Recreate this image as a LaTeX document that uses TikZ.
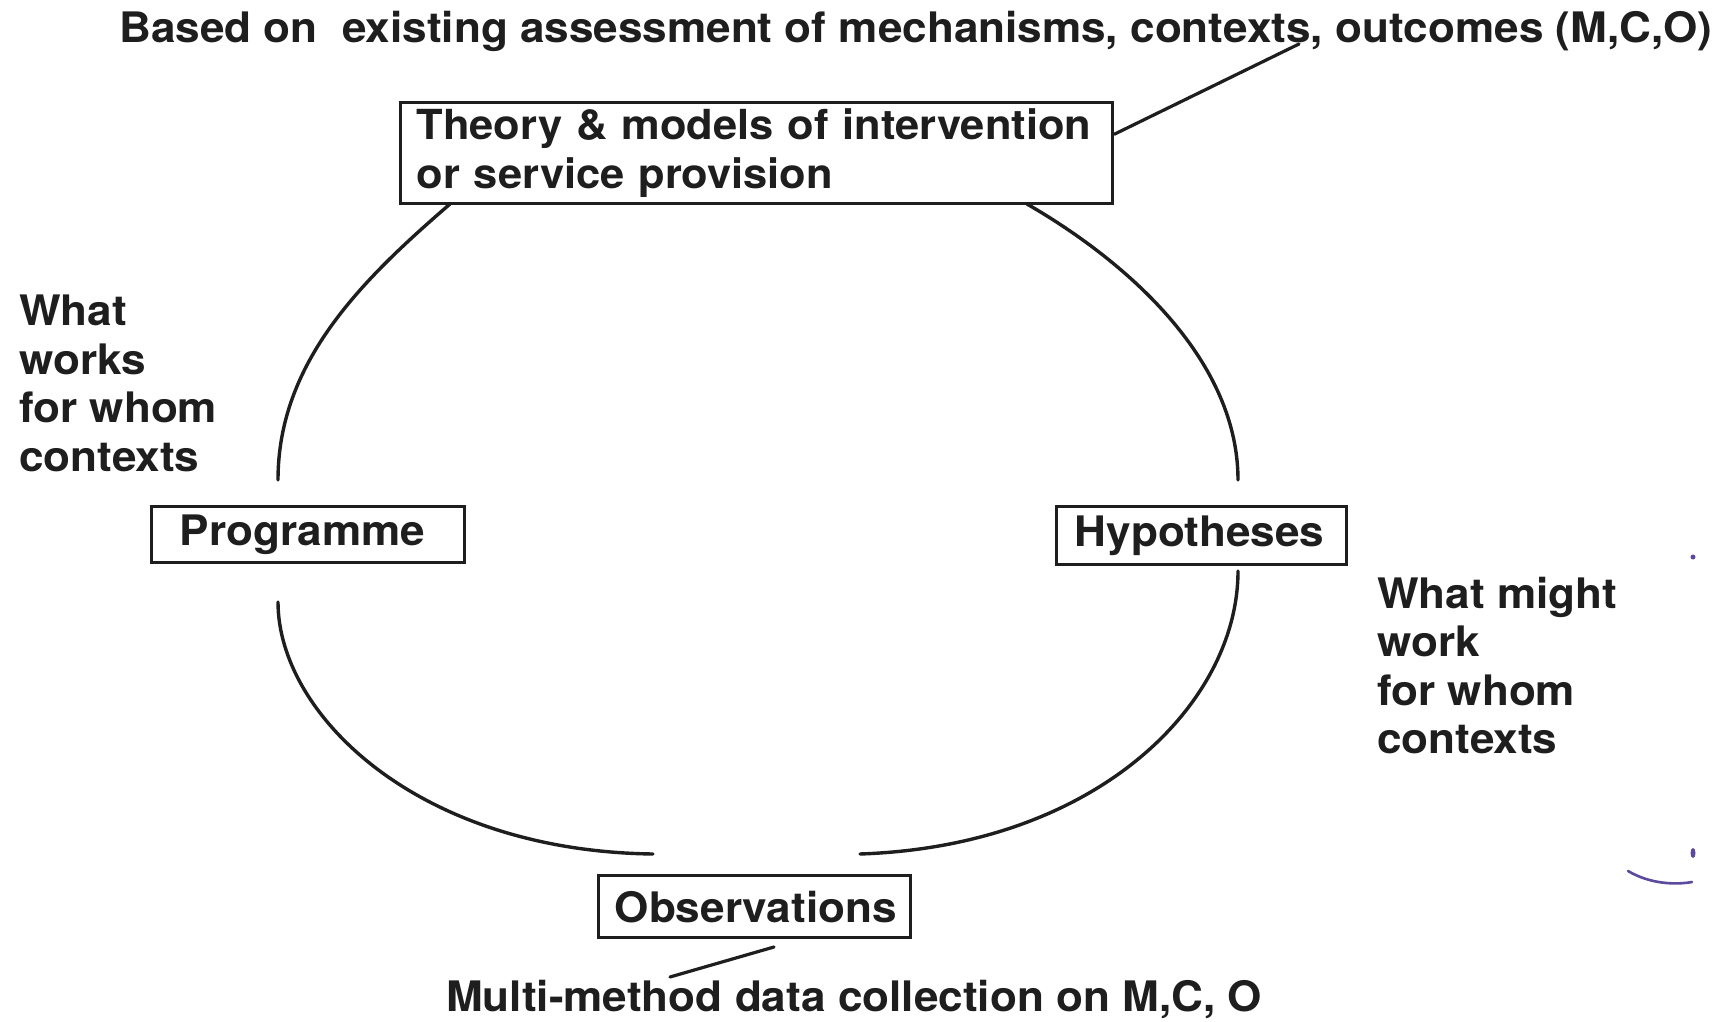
\documentclass[tikz,border=0pt]{standalone}
\usepackage{fontspec}
\setmainfont[FakeStretch=1.05]{TeX Gyre Heros}
\newcommand\dfont{\fontsize{42}{48.5}\selectfont\bfseries}
\newcommand\tfont{\fontsize{41.4}{48.5}\selectfont\bfseries}
\definecolor{ink}{HTML}{1E1E1E}
\definecolor{pen}{HTML}{5B4A9E}
\begin{document}
\begin{tikzpicture}[x=1pt,y=-1pt,
  every node/.style={text=ink},
  box/.style={draw=ink, line width=3.4pt, anchor=north west, inner ysep=0pt,
              align=left, font=\dfont},
  txt/.style={inner sep=0pt, font=\dfont, align=left},
  curve/.style={draw=ink, line width=3.4pt, line cap=round},
  lead/.style={draw=ink, line width=3.2pt, line cap=round}]
\useasboundingbox[fill=white] (0,0) rectangle (1722,1022);

% labels
\node[txt, anchor=base west] (top) at (119,43)
  {Based on\ \ existing assessment of mechanisms, contexts, outcomes (M,C,O)};
\node[txt, anchor=base west] (bottom) at (446,1011)
  {Multi-method data collection on M,C, O};
\node[txt, anchor=north west] (left) at (19,295)
  {What\\works\\for whom\\contexts};
\node[txt, anchor=north west] (right) at (1377,577)
  {What might\\work\\for whom\\contexts};

% boxes
\node[box, font=\tfont, minimum width=712pt, minimum height=101pt, inner xsep=16pt, text width=680pt]
  (theory) at (399,101) {Theory \& models of intervention\\or service provision};
\node[box, minimum width=313pt, minimum height=56pt, inner xsep=28pt, text width=257pt]
  (prog) at (150,505) {Programme};
\node[box, minimum width=290pt, minimum height=58pt, inner xsep=18pt, text width=254pt]
  (hyp) at (1055,505) {Hypotheses};
\node[box, minimum width=312pt, minimum height=62pt, inner xsep=16pt, text width=280pt]
  (obs) at (597,874) {Observations};

% cycle arcs
\coordinate (a1) at (450,204);  \coordinate (a2) at (278,480);
\coordinate (b1) at (1027,204); \coordinate (b2) at (1238,480);
\coordinate (c1) at (278,602);  \coordinate (c2) at (653,854);
\coordinate (d1) at (1238,571); \coordinate (d2) at (860,854);
\draw[curve] (a1) .. controls (362,280) and (278,362) .. (a2);
\draw[curve] (b1) .. controls (1131,264) and (1238,362) .. (b2);
\draw[curve] (c1) .. controls (278,714) and (417,851) .. (c2);
\draw[curve] (d1) .. controls (1238,703) and (1098,846) .. (d2);

% leader lines
\coordinate (t1) at (1299,44);
\draw[lead] ([yshift=19pt]theory.east) -- (t1);
\coordinate (o1) at (774,947);
\coordinate (o2) at (670,977);
\draw[lead] (o1) -- (o2);

% pen marks at the right edge
\fill[pen] (1693,557) circle (2.5pt);
\draw[pen, line width=2.6pt, line cap=round] (1628,871) .. controls (1650,884) and (1675,885) .. (1692,882);
\fill[pen] (1693,853) ellipse (2.5pt and 5pt);
\end{tikzpicture}
\end{document}
